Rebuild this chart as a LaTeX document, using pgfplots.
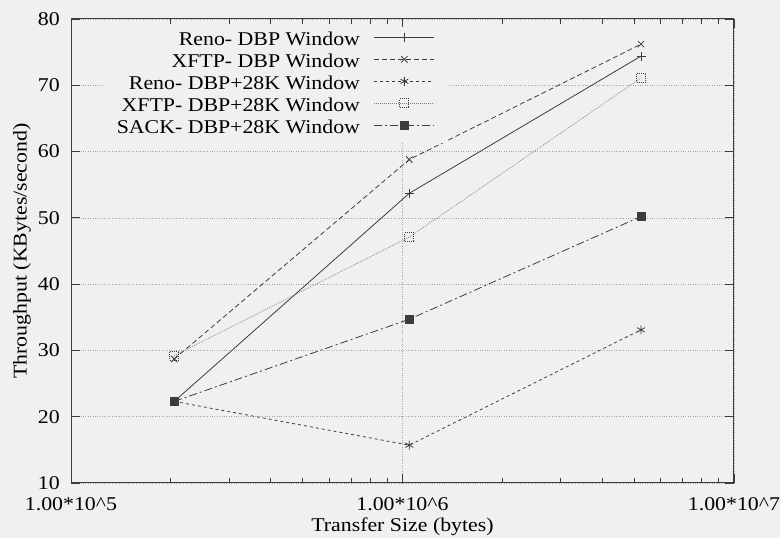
\documentclass[border=0pt]{standalone}
\usepackage{fontspec}
\setmainfont{Liberation Serif}[FakeStretch=1.12]
\usepackage{pgfplots}
\pgfplotsset{compat=1.18}
\usetikzlibrary{backgrounds}
\definecolor{bg}{RGB}{238,240,241}
\definecolor{ln}{RGB}{60,60,60}
\newcommand{\fs}{\fontsize{19.5bp}{22bp}\selectfont}
\begin{document}
\fs
\begin{tikzpicture}
\begin{axis}[
    xmode=log,
    scale only axis,
    width=663bp, height=464bp,
    xmin=1e5, xmax=1e7,
    ymin=10, ymax=80,
    xtick={1e5,1e6,1e7},
    xticklabels={1.00*10\textasciicircum 5,1.00*10\textasciicircum 6,1.00*10\textasciicircum 7},
    ytick={10,20,...,80},
    /pgf/number format/assume math mode=true,
    tick align=inside,
    major tick length=9bp,
    minor tick length=5bp,
    tick style={ln, line width=0.8pt},
    axis line style={ln, line width=1pt},
    ymajorgrids, xmajorgrids,
    major grid style={gray!70, dotted, line width=0.6pt},
    tick label style={font=\fs},
    xticklabel style={yshift=-8bp, inner xsep=0bp},
    yticklabel style={xshift=-4.5bp},
    label style={font=\fs},
    xlabel={Transfer Size (bytes)},
    ylabel={Throughput (KBytes/second)},
    xlabel style={at={(axis description cs:0.5,-0.1056)}, anchor=base, inner sep=0bp},
    ylabel style={at={(axis description cs:-0.074,0.5)}, anchor=center},
    legend style={draw=none, fill=bg, at={(0.5686,0.9825)}, anchor=north east,
        font=\fs, row sep=0bp, column sep=14bp, inner xsep=13bp, inner ysep=3bp,
        nodes={inner sep=0bp, text height=15bp, text depth=7bp}},
    legend cell align=right,
    legend plot pos=right,
    legend image code/.code={\draw[mark repeat=2,mark phase=2,#1] plot coordinates {(0bp,4bp) (30bp,4bp) (60bp,4bp)};},
    every axis plot/.append style={ln, line width=0.8pt, mark size=4.5bp, mark options={solid}},
    clip=false,
]
\addplot[solid, mark=+] coordinates {(204800,22.3) (1048576,53.7) (5242880,74.4)};
\addplot[dash pattern=on 5bp off 3bp, mark=x] coordinates {(204800,28.7) (1048576,58.8) (5242880,76.2)};
\addplot[dash pattern=on 3bp off 3bp, mark=asterisk] coordinates {(204800,22.3) (1048576,15.7) (5242880,33.1)};
\addplot[gray, line width=0.6pt, dash pattern=on 1bp off 1bp, mark=square, mark options={ln, line width=0.8pt}] coordinates {(204800,29.2) (1048576,47.1) (5242880,71.1)};
\addplot[dash pattern=on 8bp off 3bp on 2bp off 3bp, mark=square*, mark size=4bp] coordinates {(204800,22.3) (1048576,34.7) (5242880,50.2)};
\legend{Reno- DBP Window, XFTP- DBP Window, Reno- DBP+28K Window, XFTP- DBP+28K Window, SACK- DBP+28K Window}
\path (rel axis cs:0,1) ++(-71bp,19bp);
\path (rel axis cs:1,0) ++(46bp,-55bp);
\end{axis}
\begin{scope}[on background layer]
\fill[bg] (current bounding box.south west) rectangle (current bounding box.north east);
\end{scope}
\end{tikzpicture}
\end{document}
